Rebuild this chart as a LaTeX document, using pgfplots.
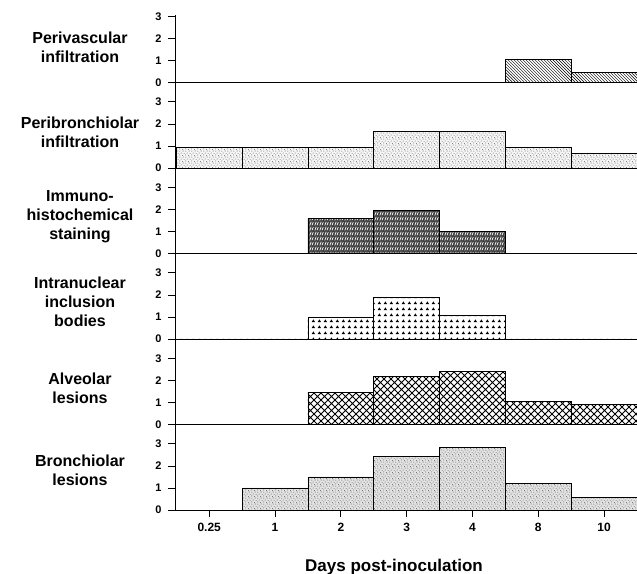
\documentclass[border=0pt]{standalone}
\usepackage{fontspec}
\setmainfont{Liberation Sans}
\usepackage{pgfplots}
\pgfplotsset{compat=1.18}
\usetikzlibrary{patterns}

% custom fills, roughly like the printed textures
\pgfdeclarepatternformonly{tri}{\pgfqpoint{0pt}{0pt}}{\pgfqpoint{6pt}{6pt}}{\pgfqpoint{6pt}{6pt}}{%
  \pgfpathmoveto{\pgfqpoint{0.6pt}{0.8pt}}\pgfpathlineto{\pgfqpoint{4.2pt}{0.8pt}}\pgfpathlineto{\pgfqpoint{2.4pt}{3.6pt}}\pgfpathclose
  \pgfusepath{fill}}
\pgfdeclarepatternformonly{bigcross}{\pgfqpoint{0pt}{0pt}}{\pgfqpoint{7pt}{7pt}}{\pgfqpoint{7pt}{7pt}}{%
  \pgfsetlinewidth{0.8pt}
  \pgfpathmoveto{\pgfqpoint{0pt}{0pt}}\pgfpathlineto{\pgfqpoint{7pt}{7pt}}
  \pgfpathmoveto{\pgfqpoint{0pt}{7pt}}\pgfpathlineto{\pgfqpoint{7pt}{0pt}}
  \pgfusepath{stroke}}
\pgfdeclarepatternformonly{stipple}{\pgfqpoint{0pt}{0pt}}{\pgfqpoint{6pt}{6pt}}{\pgfqpoint{6pt}{6pt}}{%
  \pgfpathcircle{\pgfqpoint{0.8pt}{1.1pt}}{0.45pt}
  \pgfpathcircle{\pgfqpoint{3.6pt}{0.6pt}}{0.4pt}
  \pgfpathcircle{\pgfqpoint{2.2pt}{3.0pt}}{0.45pt}
  \pgfpathcircle{\pgfqpoint{5.1pt}{2.6pt}}{0.4pt}
  \pgfpathcircle{\pgfqpoint{0.9pt}{4.9pt}}{0.4pt}
  \pgfpathcircle{\pgfqpoint{4.2pt}{5.0pt}}{0.45pt}
  \pgfusepath{fill}}
\pgfdeclarepatternformonly{squiggle}{\pgfqpoint{0pt}{0pt}}{\pgfqpoint{5pt}{5pt}}{\pgfqpoint{5pt}{5pt}}{%
  \pgfsetlinewidth{0.7pt}
  \pgfpathmoveto{\pgfqpoint{0.8pt}{0.6pt}}\pgfpathlineto{\pgfqpoint{2.2pt}{4.2pt}}
  \pgfpathmoveto{\pgfqpoint{3.0pt}{0.8pt}}\pgfpathlineto{\pgfqpoint{4.3pt}{3.8pt}}
  \pgfusepath{stroke}}

\pgfplotsset{
  panel/.style={
    scale only axis, width=462bp, height=85.5bp,
    xmin=-0.52, xmax=6.5, ymin=0, ymax=3.88,
    axis lines*=left, axis line style={line width=0.8bp},
    ytick={0,1,2,3}, xtick=\empty,
    tick align=outside, major tick length=7bp,
    tick style={black, line width=0.8bp},
    yticklabel style={font=\fontsize{11bp}{13bp}\selectfont\bfseries, xshift=-3bp},
    /pgf/number format/assume math mode=true,
    ybar, bar width=1, clip=false,
    every axis plot/.append style={draw=black, line width=0.8bp},
  },
}

\begin{document}
\begin{tikzpicture}
\useasboundingbox (0,0) rectangle (637bp,574bp);

% Perivascular infiltration
\begin{axis}[panel, at={(175bp,491.5bp)}, anchor=south west, ymax=3.05, height=67.2bp]
\addplot[pattern=north west lines] coordinates {(0,0)(1,0)(2,0)(3,0)(4,0)(5,1.05)(6,0.44)};
\end{axis}

% Peribronchiolar infiltration
\begin{axis}[panel, at={(175bp,406bp)}, anchor=south west]
\addplot[fill=gray!8, postaction={pattern=stipple, pattern color=black!80}] coordinates {(0,0.95)(1,0.95)(2,0.95)(3,1.65)(4,1.64)(5,0.92)(6,0.67)};
\end{axis}

% Immunohistochemical staining
\begin{axis}[panel, at={(175bp,320.5bp)}, anchor=south west]
\addplot[fill=black!75, postaction={pattern=squiggle, pattern color=white}] coordinates {(0,0)(1,0)(2,1.6)(3,1.95)(4,1.0)(5,0)(6,0)};
\end{axis}

% Intranuclear inclusion bodies
\begin{axis}[panel, at={(175bp,235bp)}, anchor=south west]
\addplot[pattern=tri] coordinates {(0,0)(1,0)(2,1.0)(3,1.9)(4,1.05)(5,0)(6,0)};
\end{axis}

% Alveolar lesions
\begin{axis}[panel, at={(175bp,149.5bp)}, anchor=south west]
\addplot[pattern=bigcross] coordinates {(0,0)(1,0)(2,1.45)(3,2.2)(4,2.4)(5,1.05)(6,0.9)};
\end{axis}

% Bronchiolar lesions
\begin{axis}[panel, at={(175bp,64bp)}, anchor=south west,
  xtick={0,1,2,3,4,5,6}, xticklabels={0.25,1,2,3,4,8,10}, xtick pos=bottom,
  xticklabel style={font=\fontsize{12bp}{14bp}\selectfont\bfseries, yshift=-3bp}]
\addplot[fill=gray!22, postaction={pattern=stipple, pattern color=black!85}] coordinates {(0,0)(1,1.0)(2,1.5)(3,2.45)(4,2.85)(5,1.2)(6,0.55)};
\end{axis}

\begin{scope}[every node/.style={align=center, font=\fontsize{16bp}{19bp}\selectfont\bfseries}]
\node at (80bp,527bp) {Perivascular\\infiltration};
\node at (80bp,442bp) {Peribronchiolar\\infiltration};
\node at (80bp,357bp) {Immuno-\\histochemical\\staining};
\node at (80bp,272bp) {Intranuclear\\inclusion\\bodies};
\node at (80bp,186bp) {Alveolar\\lesions};
\node at (80bp,104bp) {Bronchiolar\\lesions};
\end{scope}
\node[anchor=base, font=\fontsize{17bp}{20bp}\selectfont\bfseries] at (394bp,3bp) {Days post-inoculation};
\end{tikzpicture}
\end{document}
